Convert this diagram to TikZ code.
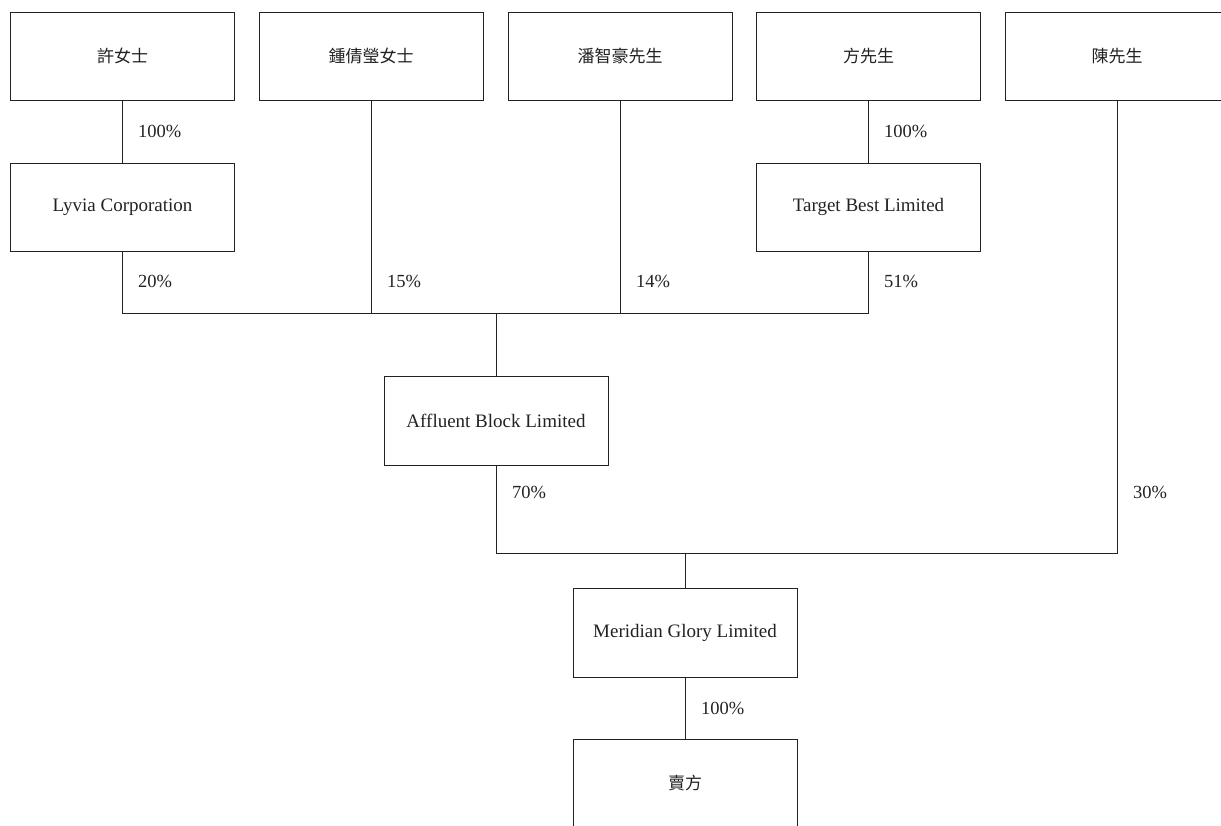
\documentclass[tikz,border=0pt]{standalone}
\usepackage{fontspec}
\setmainfont{Liberation Serif}
\newfontfamily\cjk{Noto Sans CJK TC}
\definecolor{ink}{HTML}{222222}
\begin{document}
\begin{tikzpicture}[x=1pt,y=-1pt,
  box/.style={draw=ink,line width=1pt,minimum width=224pt,minimum height=88pt,inner sep=0pt,text=ink,font=\fontsize{19}{22}\selectfont},
  cbox/.style={box,font=\cjk\fontsize{17}{20}\selectfont},
  pct/.style={anchor=west,inner sep=0pt,text=ink,font=\fontsize{18.5}{22}\selectfont},
  link/.style={draw=ink,line width=1pt}]
\useasboundingbox (0,0) rectangle (1221,825);
\clip (0,0) rectangle (1221,825);
% top row
\node[cbox] (xu)   at (122.5,56) {許女士};
\node[cbox] (zhong) at (371,56) {鍾倩瑩女士};
\node[cbox] (pan)  at (620,56) {潘智豪先生};
\node[cbox] (fang) at (868.5,56) {方先生};
\node[cbox] (chen) at (1117,56) {陳先生};
% second row
\node[box] (lyvia) at (122.5,207) {Lyvia Corporation};
\node[box] (tb)    at (868.5,207) {Target Best Limited};
% middle
\node[box,minimum height=89pt] (aff) at (496,420.5) {Affluent Block Limited};
\node[box,minimum height=89pt] (mer) at (685,632.5) {Meridian Glory Limited};
\node[cbox] (sell) at (685,783) {賣方};
% bus coordinates
\coordinate (busA) at (496,313);
\coordinate (busB) at (685,553);
% connectors
\draw[link] (xu.south) -- (lyvia.north);
\draw[link] (fang.south) -- (tb.north);
\draw[link] (lyvia.south) |- (tb.south |- busA) -- (tb.south);
\draw[link] (zhong.south) -- (zhong.south |- busA);
\draw[link] (pan.south) -- (pan.south |- busA);
\draw[link] (busA) -- (aff.north);
\draw[link] (aff.south) |- (chen.south |- busB) -- (chen.south);
\draw[link] (busB) -- (mer.north);
\draw[link] (mer.south) -- (sell.north);
% labels
\node[pct] (l1) at (138,131) {100\%};
\node[pct] (l2) at (884,131) {100\%};
\node[pct] (l3) at (138,281) {20\%};
\node[pct] (l4) at (387,281) {15\%};
\node[pct] (l5) at (636,281) {14\%};
\node[pct] (l6) at (884,281) {51\%};
\node[pct] (l7) at (512,492) {70\%};
\node[pct] (l8) at (1133,492) {30\%};
\node[pct] (l9) at (701,708) {100\%};
\end{tikzpicture}
\end{document}
